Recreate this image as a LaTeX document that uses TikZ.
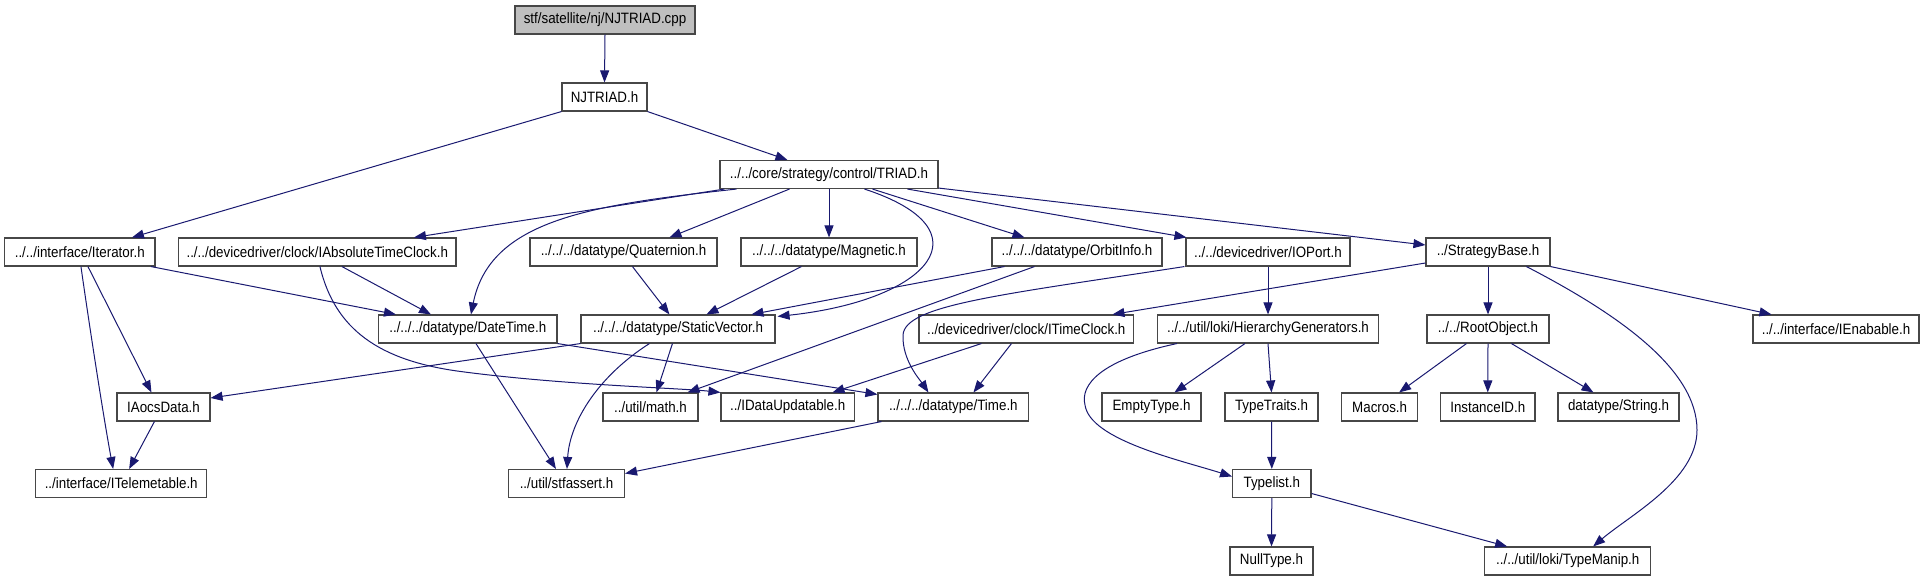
\documentclass[tikz,border=0pt]{standalone}
\usepackage{fontspec}
\setmainfont{Liberation Sans}[FakeStretch=0.89]
\usetikzlibrary{arrows.meta,calc}
\definecolor{edgeblue}{HTML}{191970}
\definecolor{cppgray}{HTML}{BFBFBF}
\newcommand\dxfnt{\fontsize{15pt}{17pt}\selectfont}
\tikzset{
  box/.style={draw=black!72, line width=1.1pt, fill=white, inner sep=0pt,
    minimum height=28pt, font=\dxfnt},
  dep/.style={draw=edgeblue, line width=1pt, -{Triangle[length=12pt,width=9pt]}},
}
\begin{document}
\begin{tikzpicture}[x=1pt,y=-1pt]
\useasboundingbox (0,0) rectangle (1924,581);
% row 0-2
\node[box, fill=cppgray, minimum width=180pt] (cpp) at (605,20) {stf/satellite/nj/NJTRIAD.cpp};
\node[box, minimum width=85pt] (njh) at (604.5,97) {NJTRIAD.h};
\node[box, minimum width=218pt] (triad) at (829,174.5) {../../core/strategy/control/TRIAD.h};
% row 3
\node[box, minimum width=150.5pt] (iter) at (79.75,252) {../../interface/Iterator.h};
\node[box, minimum width=277.5pt] (iabs) at (317.25,252) {../../devicedriver/clock/IAbsoluteTimeClock.h};
\node[box, minimum width=187pt] (quat) at (623.5,252) {../../../datatype/Quaternion.h};
\node[box, minimum width=176pt] (magn) at (829,252) {../../../datatype/Magnetic.h};
\node[box, minimum width=170pt] (orbit) at (1077,252) {../../../datatype/OrbitInfo.h};
\node[box, minimum width=164pt] (ioport) at (1268,252) {../../devicedriver/IOPort.h};
\node[box, minimum width=124pt] (strat) at (1488,252) {../StrategyBase.h};
% row 4
\node[box, minimum width=178.5pt] (datetime) at (467.75,329) {../../../datatype/DateTime.h};
\node[box, minimum width=194pt] (staticv) at (678,329) {../../../datatype/StaticVector.h};
\node[box, minimum width=214.5pt] (itimec) at (1026.25,329) {../devicedriver/clock/ITimeClock.h};
\node[box, minimum width=221pt] (hiergen) at (1268,329) {../../util/loki/HierarchyGenerators.h};
\node[box, minimum width=122pt] (rootobj) at (1488,329) {../../RootObject.h};
\node[box, minimum width=166pt] (ienab) at (1836,329) {../../interface/IEnabable.h};
% row 5
\node[box, minimum width=93pt] (iaocs) at (163.5,407) {IAocsData.h};
\node[box, minimum width=95pt] (math) at (650.5,407) {../util/math.h};
\node[box, minimum width=133.5pt] (idataupd) at (787.75,407) {../IDataUpdatable.h};
\node[box, minimum width=150.6pt] (time) at (953.3,407) {../../../datatype/Time.h};
\node[box, minimum width=99pt] (empty) at (1151.5,407) {EmptyType.h};
\node[box, minimum width=93pt] (traits) at (1271.5,407) {TypeTraits.h};
\node[box, minimum width=76pt] (macros) at (1379.65,407) {Macros.h};
\node[box, minimum width=94.5pt] (instid) at (1487.75,407) {InstanceID.h};
\node[box, minimum width=121pt] (string) at (1618.5,407) {datatype/String.h};
% row 6
\node[box, minimum width=171pt] (itelem) at (121.2,483.5) {../interface/ITelemetable.h};
\node[box, minimum width=116pt] (stfassert) at (566.5,483.5) {../util/stfassert.h};
\node[box, minimum width=78.4pt] (typelist) at (1271.8,483.5) {Typelist.h};
% row 7
\node[box, minimum width=83pt] (nulltype) at (1271.5,561) {NullType.h};
\node[box, minimum width=166pt] (typemanip) at (1567.7,561) {../../util/loki/TypeManip.h};

% edges
\draw[dep] (cpp.south) -- (njh.north);
\draw[dep] (njh.south west) -- ($(iter.north west)+(128,0)$);
\draw[dep] (njh.south east) -- ($(triad.north west)+(68,0)$);
\draw[dep] ($(triad.south west)+(5,0)$) -- ($(iabs.north west)+(236,0)$);
\draw[dep] ($(triad.south west)+(17,0)$) .. controls (590,205) and (490,220) .. ($(datetime.north west)+(93,0)$);
\draw[dep] ($(triad.south west)+(70,0)$) -- ($(quat.north west)+(140,0)$);
\draw[dep] (triad.south) -- (magn.north);
\draw[dep] ($(triad.south west)+(145,0)$) .. controls (990,230) and (930,300) .. ($(staticv.north east)+(2,2)$);
\draw[dep] ($(triad.south west)+(153,0)$) -- ($(orbit.north west)+(33,0)$);
\draw[dep] ($(triad.south west)+(188,0)$) -- ($(ioport.north west)+(1,0)$);
\draw[dep] ($(triad.south east)+(0,-1)$) -- ($(strat.west)+(0,-7)$);
\draw[dep] ($(iter.south west)+(147,0)$) -- ($(datetime.north west)+(18,0)$);
\draw[dep] ($(iter.south west)+(84,0)$) -- ($(iaocs.north west)+(35,0)$);
\draw[dep] ($(iter.south west)+(77,0)$) .. controls (90,330) and (104,420) .. ($(itelem.north west)+(78,0)$);
\draw[dep] ($(iabs.south west)+(164,0)$) -- ($(datetime.north west)+(53,0)$);
\draw[dep] ($(iabs.south west)+(142,0)$) .. controls (335,330) and (380,360) .. (457,371) .. controls (560,385) and (680,388) .. (idataupd.north west);
\draw[dep] ($(quat.south west)+(103,0)$) -- ($(staticv.north west)+(89,0)$);
\draw[dep] ($(magn.south west)+(61,0)$) -- ($(staticv.north west)+(126,0)$);
\draw[dep] ($(orbit.south west)+(13,0)$) -- ($(staticv.north west)+(171,0)$);
\draw[dep] ($(orbit.south west)+(43,0)$) -- ($(math.north east)+(-11,0)$);
\draw[dep] ($(ioport.south west)+(-1,0)$) .. controls (1000,295) and (905,305) .. (903,335) .. controls (902,360) and (920,380) .. ($(time.north west)+(51,0)$);
\draw[dep] (ioport.south) -- (hiergen.north);
\draw[dep] ($(strat.west)+(0,11)$) -- ($(itimec.north west)+(194,0)$);
\draw[dep] (strat.south) -- (rootobj.north);
\draw[dep] ($(strat.south west)+(101,0)$) .. controls (1620,315) and (1697,370) .. (1697,430) .. controls (1697,480) and (1630,515) .. ($(typemanip.north west)+(109,0)$);
\draw[dep] (strat.south east) -- ($(ienab.north west)+(19,0)$);
\draw[dep] ($(itimec.south west)+(63,0)$) -- ($(idataupd.north west)+(112,0)$);
\draw[dep] ($(itimec.south west)+(93,0)$) -- ($(time.north west)+(96,0)$);
\draw[dep] ($(hiergen.south west)+(20,0)$) .. controls (1100,360) and (1080,385) .. (1085,405) .. controls (1090,440) and (1180,460) .. ($(typelist.west)+(0,-7)$);
\draw[dep] ($(hiergen.south west)+(88,0)$) -- ($(empty.north west)+(73,0)$);
\draw[dep] (hiergen.south) -- (traits.north);
\draw[dep] ($(rootobj.south west)+(40,0)$) -- ($(macros.north west)+(58,0)$);
\draw[dep] (rootobj.south) -- (instid.north);
\draw[dep] ($(rootobj.south west)+(85,0)$) -- ($(string.north west)+(36,0)$);
\draw[dep] ($(iaocs.south west)+(38,0)$) -- ($(itelem.north west)+(94,0)$);
\draw[dep] ($(datetime.south west)+(98,0)$) -- ($(stfassert.north west)+(48,0)$);
\draw[dep] (datetime.south east) -- ($(time.north west)+(0,2)$);
\draw[dep] (staticv.south west) -- ($(iaocs.east)+(0,-9)$);
\draw[dep] ($(staticv.south west)+(92,0)$) -- ($(math.north west)+(54,0)$);
\draw[dep] ($(staticv.south west)+(69,0)$) .. controls (600,375) and (570,420) .. ($(stfassert.north west)+(59,0)$);
\draw[dep] ($(time.south west)+(4,0)$) -- ($(stfassert.east)+(0,-10)$);
\draw[dep] (traits.south) -- (typelist.north);
\draw[dep] (typelist.south) -- (nulltype.north);
\draw[dep] ($(typelist.east)+(0,10)$) -- ($(typemanip.north west)+(23,0)$);
\end{tikzpicture}
\end{document}
